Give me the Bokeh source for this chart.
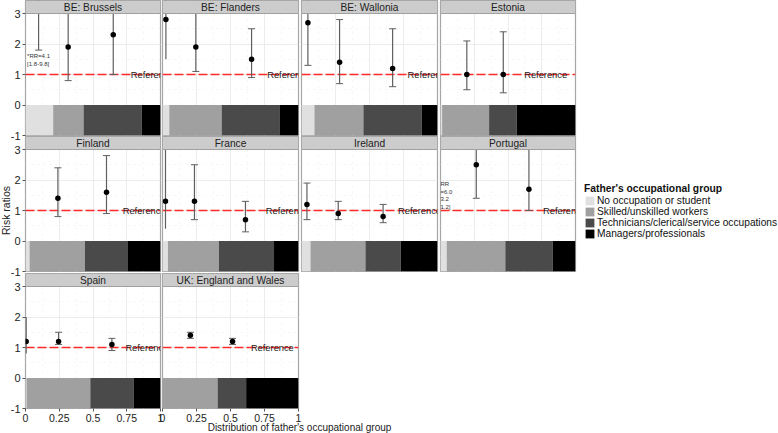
from bokeh.core.properties import value
from bokeh.embed import file_html
from bokeh.resources import INLINE
from bokeh.layouts import column, row
from bokeh.models import FixedTicker, Label, Legend, LegendItem, Range1d, Span
from bokeh.plotting import figure
import numpy as np
import math

panel_names = ["BE: Brussels", "BE: Flanders", "BE: Wallonia", "Estonia", "Finland",
               "France", "Ireland", "Portugal", "Spain", "UK: England and Wales"]
group_names = ["No occupation or student", "Skilled/unskilled workers",
               "Technicians/clerical/service occupations", "Managers/professionals"]
group_colors = ["#e0e0e0", "#a0a0a0", "#4a4a4a", "#000000"]

share_none = [0.205, 0.05, 0.095, 0.012, 0.03, 0.04, 0.066, 0.046, 0.008, 0.0]
share_skilled = [0.225, 0.385, 0.36, 0.348, 0.41, 0.375, 0.404, 0.434, 0.472, 0.405]
share_tech = [0.43, 0.425, 0.43, 0.205, 0.315, 0.405, 0.26, 0.35, 0.32, 0.21]
share_mgr = [0.14, 0.14, 0.115, 0.435, 0.245, 0.18, 0.27, 0.17, 0.2, 0.385]

point_panel = [0, 0, 0, 1, 1, 1, 2, 2, 2, 3, 3, 4, 4, 5, 5, 5, 6, 6, 6, 7, 7, 7, 8, 8, 8, 9, 9]
point_x = [0.097, 0.316, 0.65, 0.025, 0.245, 0.655, 0.047, 0.28, 0.67, 0.195, 0.465, 0.24, 0.6,
           0.022, 0.235, 0.61, 0.04, 0.27, 0.6, 0.023, 0.265, 0.655, 0.005, 0.245, 0.64, 0.205, 0.515]
point_rr = [4.1, 1.9, 2.3, 2.8, 1.9, 1.5, 2.7, 1.4, 1.2, 1.0, 1.0, 1.4, 1.6,
            1.3, 1.3, 0.7, 1.2, 0.9, 0.8, 6.0, 2.5, 1.7, 1.2, 1.2, 1.1, 1.4, 1.2]
point_low = [1.8, 0.8, 1.0, 1.5, 1.1, 0.9, 1.3, 0.7, 0.6, 0.5, 0.4, 0.8, 0.9,
             0.4, 0.7, 0.3, 0.7, 0.7, 0.6, 3.2, 1.4, 1.0, 0.8, 1.1, 0.9, 1.3, 1.1]
point_high = [9.8, 4.5, 5.0, 4.0, 3.5, 2.5, 4.0, 2.8, 2.5, 2.1, 2.4, 2.4, 2.8,
              3.6, 2.5, 1.3, 1.9, 1.3, 1.2, 11.2, 4.2, 3.4, 2.0, 1.5, 1.3, 1.5, 1.3]

reference_x = [0.78, 0.77, 0.78, 0.62, 0.72, 0.76, 0.71, 0.76, 0.74, 0.65]
note_panel = [0, 0, 7, 7, 7, 7]
note_x = [0.012, 0.012, 0.0, 0.0, 0.0, 0.0]
note_y = [1.62, 1.36, 1.87, 1.62, 1.38, 1.11]
note_text = ["*RR=4.1", "[1.8-9.8]", "RR", "=6.0", "3.2", "1.2]"]

x_ticks = [0, 0.25, 0.5, 0.75, 1]
x_minor = [0.125, 0.375, 0.625, 0.875]
y_ticks = [-1, 0, 1, 2, 3]
y_minor = [-0.5, 0.5, 1.5, 2.5]
x_title = "Distribution of father's occupational group"
y_title = "Risk ratios"
legend_title = "Father's occupational group"

FONT = "Liberation Sans"
LEFTS = [25, 162, 301, 440]
WIDTHS = [135, 136, 136, 135]
ROW_GAPS = [1, 2, 0]
FRAME_H = 135
STRIP_PX = 13
PX_PER_UNIT = 30.5
PAD = 8
Y_TOP = y_ticks[-1] + STRIP_PX / PX_PER_UNIT


def panel(i):
    r, c = i // 4, i % 4
    last_row = r == 2
    pad_left = LEFTS[0] if c == 0 else PAD
    bottom = 25 if last_row else PAD
    next_left = LEFTS[c + 1] if c < 3 else LEFTS[c] + WIDTHS[c] + PAD + PAD
    m_right = next_left - (LEFTS[c] + WIDTHS[c]) - PAD - PAD
    p = figure(frame_width=WIDTHS[c], frame_height=FRAME_H,
               x_range=Range1d(0, 1), y_range=Range1d(y_ticks[0], Y_TOP),
               output_backend="svg", toolbar_location=None,
               min_border_left=pad_left, min_border_right=PAD, min_border_top=0, min_border_bottom=bottom,
               margin=(0, m_right, ROW_GAPS[r] - (0 if last_row else PAD), 0),
               background_fill_color="white", border_fill_color=None,
               outline_line_color="#a6a6a6", outline_line_width=1.2)

    p.xaxis.ticker = FixedTicker(ticks=x_ticks, minor_ticks=x_minor)
    p.yaxis.ticker = FixedTicker(ticks=y_ticks, minor_ticks=y_minor)
    for ax in (p.xaxis, p.yaxis):
        ax.axis_line_color = None
        ax.minor_tick_line_color = None
        ax.major_tick_line_color = "#555555"
        ax.major_tick_in = 0
        ax.major_tick_out = 3
        ax.major_label_text_font = FONT
        ax.major_label_text_font_size = "10.5px"
        ax.major_label_text_color = "#222222"
        ax.major_label_standoff = 1
    p.yaxis.major_label_text_font_size = "11px"
    p.xaxis.major_label_overrides = {0: "0", 1: "1", 0.5: "0.5", 0.25: "0.25", 0.75: "0.75"}
    p.yaxis.major_label_overrides = {t: str(t) for t in y_ticks}
    p.xaxis.visible = last_row
    p.yaxis.visible = c == 0

    for g in (p.xgrid, p.ygrid):
        g.grid_line_color = "#ececec"
        g.minor_grid_line_color = "#f4f4f4"
        g.minor_grid_line_dash = "dotted"

    shares = [share_none[i], share_skilled[i], share_tech[i], share_mgr[i]]
    edges = np.concatenate([[0], np.cumsum(shares)])
    p.quad(left=edges[:-1], right=edges[1:], bottom=y_ticks[0], top=0,
           fill_color=group_colors, line_color=None)

    p.add_layout(Span(location=1, dimension="width", line_color="#ff2a2a",
                      line_dash=[9, 3], line_width=1.3, level="underlay"))

    idx = [k for k, q in enumerate(point_panel) if q == i]
    xs = [point_x[k] for k in idx]
    rr = [point_rr[k] for k in idx]
    low = [point_low[k] for k in idx]
    high = [point_high[k] for k in idx]
    p.segment(xs, low, xs, high, line_color="#5f5f5f", line_width=1.2)
    capped = [k for k in range(len(idx)) if xs[k] >= 0.03]
    cap_x = [xs[k] for k in capped]
    p.scatter(cap_x, [low[k] for k in capped], marker="dash", size=7, line_color="#5f5f5f", line_width=1)
    p.scatter(cap_x, [high[k] for k in capped], marker="dash", size=7, line_color="#5f5f5f", line_width=1)
    p.scatter(xs, rr, marker="circle", size=5.5, fill_color="black", line_color=None)

    p.text([reference_x[i]], [0.97], text=["Reference"], text_font=value(FONT), text_font_size="9.3px",
           text_color="#222222", text_baseline="middle", text_align="left")

    nidx = [k for k, q in enumerate(note_panel) if q == i]
    if nidx:
        p.text([note_x[k] for k in nidx], [note_y[k] for k in nidx], text=[note_text[k] for k in nidx],
               text_font=value(FONT), text_font_size="6px", text_color="#333333",
               text_baseline="middle", text_align="left")

    # strip on top of everything that runs past the top of the scale
    p.quad(left=[0], right=[1], bottom=[y_ticks[-1]], top=[Y_TOP], fill_color="#cccccc",
           line_color="#a0a0a0", line_width=1)
    p.text([0.5], [(y_ticks[-1] + Y_TOP) / 2], text=[panel_names[i]], text_font=value(FONT),
           text_font_size="10.2px", text_color="#222222", text_align="center", text_baseline="middle")
    return p


figs = [panel(i) for i in range(len(panel_names))]

# legend
leg_fig = figure(width=194, height=66, x_range=Range1d(0, 1), y_range=Range1d(0, 1),
                 output_backend="svg", toolbar_location=None, min_border=0,
                 margin=(47, 0, 0, 1), outline_line_color=None, border_fill_color=None,
                 background_fill_color=None)
leg_fig.xaxis.visible = False
leg_fig.yaxis.visible = False
leg_fig.grid.visible = False
items = []
for name, col in zip(group_names, group_colors):
    # swatch source sits outside the empty scale: only the legend key shows
    r = leg_fig.quad(left=[2], right=[3], bottom=[2], top=[3], fill_color=col, line_color=None)
    items.append(LegendItem(label=name, renderers=[r]))
legend = Legend(items=items, title=legend_title, location="top_left", margin=0, padding=0, spacing=0,
                border_line_color=None, background_fill_alpha=0,
                glyph_width=11, glyph_height=11, label_height=11, label_standoff=2,
                label_text_font=FONT, label_text_font_size="10.2px", label_text_color="#111111",
                title_text_font=FONT, title_text_font_size="10.3px", title_text_font_style="bold",
                title_text_color="#111111", title_standoff=1)
leg_fig.add_layout(legend)

# axis titles shared by all the panels
title_fig = figure(width=600, height=433, x_range=Range1d(0, 600), y_range=Range1d(433, 0),
                   output_backend="svg", toolbar_location=None, min_border=0,
                   margin=(-433, 0, 0, 0), outline_line_color=None, border_fill_color=None,
                   background_fill_color=None)
title_fig.xaxis.visible = False
title_fig.yaxis.visible = False
title_fig.grid.visible = False
title_fig.add_layout(Label(x=299, y=426.5, text=x_title, text_font=FONT, text_font_size="10px",
                           text_color="#222222", text_align="center", text_baseline="middle"))
title_fig.add_layout(Label(x=5.5, y=210, text=y_title, text_font=FONT, text_font_size="10.5px",
                           angle=math.pi / 2, text_color="#222222", text_align="center", text_baseline="middle"))

layout = column(row(*figs[0:4]), row(*figs[4:8], leg_fig), row(*figs[8:10]), title_fig, spacing=0)

open("out.html", "w").write(file_html(layout, INLINE))
